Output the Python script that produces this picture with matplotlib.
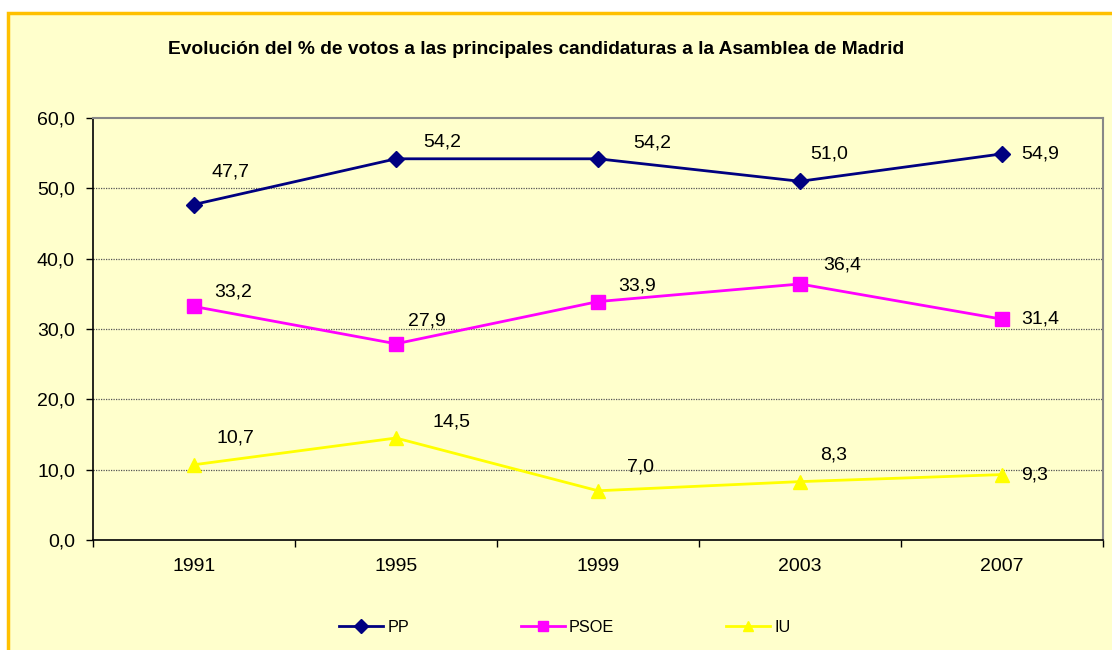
import matplotlib
matplotlib.use("Agg")
import matplotlib.pyplot as plt
from matplotlib.patches import Rectangle

plt.rcParams['font.family'] = ['Liberation Sans', 'DejaVu Sans']

# datos
years = ["1991", "1995", "1999", "2003", "2007"]
pp = [47.7, 54.2, 54.2, 51.0, 54.9]
psoe = [33.2, 27.9, 33.9, 36.4, 31.4]
iu = [10.7, 14.5, 7.0, 8.3, 9.3]

# desplazamiento de etiquetas (pixeles) como en el original
pp_off = [(36, 33), (46, 17), (54, 16), (29, 27), (38, 0)]
psoe_off = [(39, 14), (31, 23), (39, 16), (42, 19), (38, 0)]
iu_off = [(41, 27), (56, 16), (43, 24), (34, 27), (33, 0)]

bg = "#FFFFCC"
fig = plt.figure(figsize=(11.12, 6.5), dpi=100, facecolor="white")
fig.patches.append(Rectangle((8 / 1112, -0.05), 1.1, (650 - 13) / 650 + 0.05,
                             transform=fig.transFigure, facecolor=bg,
                             edgecolor="#FFC000", linewidth=2.5, zorder=-10))

ax = fig.add_axes([93 / 1112, 110 / 650, 1010 / 1112, 422 / 650])
ax.set_facecolor(bg)

x = range(len(years))
series = [
    ("PP", pp, pp_off, "#000080", "D", 8.5),
    ("PSOE", psoe, psoe_off, "#FF00FF", "s", 9.5),
    ("IU", iu, iu_off, "#FFFF00", "^", 9.5),
]
for name, vals, offs, col, mk, ms in series:
    ax.plot(x, vals, color=col, marker=mk, markersize=ms, linewidth=2,
            label=name, zorder=3)
    for xi, v, (dx, dy) in zip(x, vals, offs):
        ax.annotate(f"{v:.1f}".replace(".", ","), (xi, v), xytext=(dx, dy),
                    textcoords="offset pixels", ha="center", va="center",
                    fontsize=14, color="black", zorder=4)

ax.set_xlim(-0.5, len(years) - 0.5)
ax.set_ylim(0, 60)
ax.set_yticks(range(0, 61, 10))
ax.set_yticklabels([f"{v:.1f}".replace(".", ",") for v in range(0, 61, 10)])
ax.set_xticks(list(x))
ax.set_xticklabels(years)
ax.set_xticks([i - 0.5 for i in range(len(years) + 1)], minor=True)
ax.tick_params(axis="x", which="major", length=0, pad=13, labelsize=14)
ax.tick_params(axis="x", which="minor", length=5, width=1, direction="out")
ax.tick_params(axis="y", length=5, width=1, direction="out", pad=8, labelsize=14)

for y in range(10, 60, 10):
    ax.axhline(y, color="#555555", linestyle=(0, (1, 1)), linewidth=0.9, zorder=1)

ax.spines["top"].set_color("#888888")
ax.spines["right"].set_color("#888888")
ax.spines["top"].set_linewidth(1.5)
ax.spines["right"].set_linewidth(1.5)
ax.spines["left"].set_linewidth(1.2)
ax.spines["bottom"].set_linewidth(1.2)

fig.text(536 / 1112, 1 - 50 / 650,
         "Evolución del % de votos a las principales candidaturas a la Asamblea de Madrid",
         ha="center", va="center", fontsize=13.8, fontweight="bold")

leg = fig.legend(loc="center", bbox_to_anchor=(565 / 1112, 1 - 627 / 650), ncol=3,
                 frameon=False, fontsize=11.7, handlelength=2.7, columnspacing=6.9,
                 handletextpad=0.25, markerscale=0.8)

fig.savefig("out.png", dpi=100, facecolor=fig.get_facecolor())
